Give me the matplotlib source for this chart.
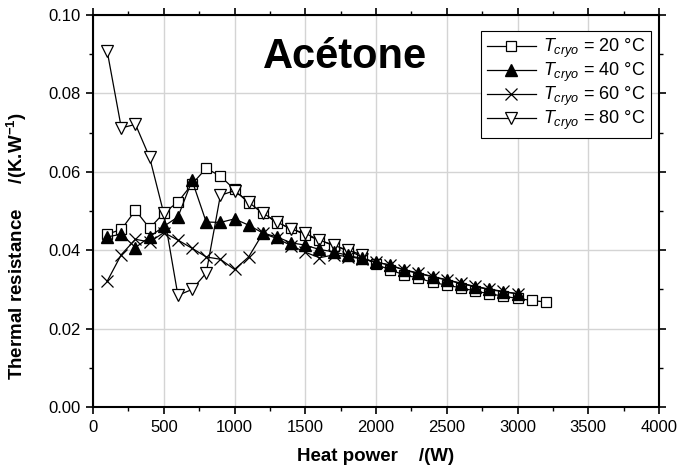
import matplotlib
matplotlib.use("Agg")
import matplotlib.pyplot as plt
from matplotlib.ticker import MultipleLocator

plt.rcParams['font.family'] = ['Liberation Sans', 'DejaVu Sans']
plt.rcParams['mathtext.fontset'] = 'custom'
plt.rcParams['mathtext.rm'] = 'Liberation Sans'
plt.rcParams['mathtext.it'] = 'Liberation Sans:italic'
plt.rcParams['mathtext.bf'] = 'Liberation Sans:bold'

# heat power steps (W)
p20 = [100, 200, 300, 400, 500, 600, 700, 800, 900, 1000, 1100, 1200, 1300, 1400,
       1500, 1600, 1700, 1800, 1900, 2000, 2100, 2200, 2300, 2400, 2500, 2600,
       2700, 2800, 2900, 3000, 3100, 3200]
r20 = [0.0441, 0.0453, 0.0502, 0.0456, 0.0495, 0.0523, 0.0569, 0.0609, 0.0589,
       0.0555, 0.0521, 0.0495, 0.0470, 0.0456, 0.0439, 0.0426, 0.0412, 0.0399,
       0.0384, 0.0364, 0.0350, 0.0337, 0.0329, 0.0318, 0.0311, 0.0304, 0.0296,
       0.0289, 0.0283, 0.0277, 0.0272, 0.0268]

p40 = [100, 200, 300, 400, 500, 600, 700, 800, 900, 1000, 1100, 1200, 1300, 1400,
       1500, 1600, 1700, 1800, 1900, 2000, 2100, 2200, 2300, 2400, 2500, 2600,
       2700, 2800, 2900, 3000]
r40 = [0.0434, 0.0441, 0.0407, 0.0434, 0.0461, 0.0485, 0.0578, 0.0472, 0.0471,
       0.0480, 0.0464, 0.0444, 0.0434, 0.0419, 0.0413, 0.0402, 0.0396, 0.0387,
       0.0379, 0.0370, 0.0362, 0.0349, 0.0341, 0.0332, 0.0324, 0.0315, 0.0307,
       0.0300, 0.0294, 0.0289]

p60 = [100, 200, 300, 400, 500, 600, 700, 800, 900, 1000, 1100, 1200, 1300, 1400,
       1500, 1600, 1700, 1800, 1900, 2000, 2100, 2200, 2300, 2400, 2500, 2600,
       2700, 2800, 2900, 3000]
r60 = [0.0321, 0.0389, 0.0428, 0.0421, 0.0445, 0.0426, 0.0405, 0.0383, 0.0377,
       0.0351, 0.0383, 0.0443, 0.0430, 0.0412, 0.0395, 0.0381, 0.0388, 0.0384,
       0.0378, 0.0370, 0.0362, 0.0350, 0.0342, 0.0333, 0.0325, 0.0316, 0.0308,
       0.0301, 0.0295, 0.0289]

p80 = [100, 200, 300, 400, 500, 600, 700, 800, 900, 1000, 1100, 1200, 1300, 1400,
       1500, 1600, 1700, 1800, 1900]
r80 = [0.0908, 0.0712, 0.0721, 0.0637, 0.0494, 0.0285, 0.0300, 0.0342, 0.0540,
       0.0552, 0.0522, 0.0495, 0.0472, 0.0454, 0.0443, 0.0426, 0.0413, 0.0400,
       0.0389]

labels = [r"$T_{cryo}$ = 20 °C", r"$T_{cryo}$ = 40 °C",
          r"$T_{cryo}$ = 60 °C", r"$T_{cryo}$ = 80 °C"]

fig = plt.figure(figsize=(6.81, 4.69), dpi=100)
ax = fig.add_axes([0.1366, 0.132, 0.8311, 0.836])

ax.plot(p20, r20, '-s', color='black', lw=0.9, ms=6.5, mfc='white', mec='black',
        mew=0.9, label=labels[0], zorder=3)
ax.plot(p40, r40, '-^', color='black', lw=0.9, ms=8, mfc='black', mec='black',
        label=labels[1], zorder=4)
ax.plot(p60, r60, '-x', color='black', lw=0.9, ms=8, mew=0.9,
        label=labels[2], zorder=3)
ax.plot(p80, r80, '-v', color='black', lw=0.9, ms=9, mfc='white', mec='black',
        mew=0.9, label=labels[3], zorder=3)

ax.set_xlim(0, 4000)
ax.set_ylim(0, 0.10)
ax.xaxis.set_major_locator(MultipleLocator(500))
ax.xaxis.set_minor_locator(MultipleLocator(250))
ax.yaxis.set_major_locator(MultipleLocator(0.02))
ax.yaxis.set_minor_locator(MultipleLocator(0.01))
ax.yaxis.set_major_formatter(matplotlib.ticker.FormatStrFormatter('%.2f'))

ax.grid(True, which='major', color='#d4d4d4', lw=1.0, zorder=0)
ax.set_axisbelow(True)
for s in ax.spines.values():
    s.set_linewidth(1.5)

ax.tick_params(which='major', direction='out', length=5, width=1.2, labelsize=12,
               top=True, right=True, pad=4)
ax.tick_params(which='minor', direction='out', length=3, width=1.0,
               top=True, right=True)

ax.set_xlabel("Heat power    /(W)", fontsize=13.5, fontweight='bold', labelpad=10)
ax.set_ylabel(r"Thermal resistance     /(K.W$^{\mathbf{-1}}$)", fontsize=13.5,
              fontweight='bold')
ax.yaxis.set_label_coords(-0.113, 0.41)

ax.text(1780, 0.0893, "Acétone", fontsize=30, fontweight='bold',
        ha='center', va='center')

leg = ax.legend(loc='upper right', bbox_to_anchor=(0.985, 0.958), fontsize=13,
                frameon=True, fancybox=False, edgecolor='black', framealpha=1,
                handlelength=2.7, labelspacing=0.05, borderpad=0.3,
                handletextpad=0.4, borderaxespad=0)
leg.get_frame().set_linewidth(0.8)

fig.savefig("out.png", dpi=100)
